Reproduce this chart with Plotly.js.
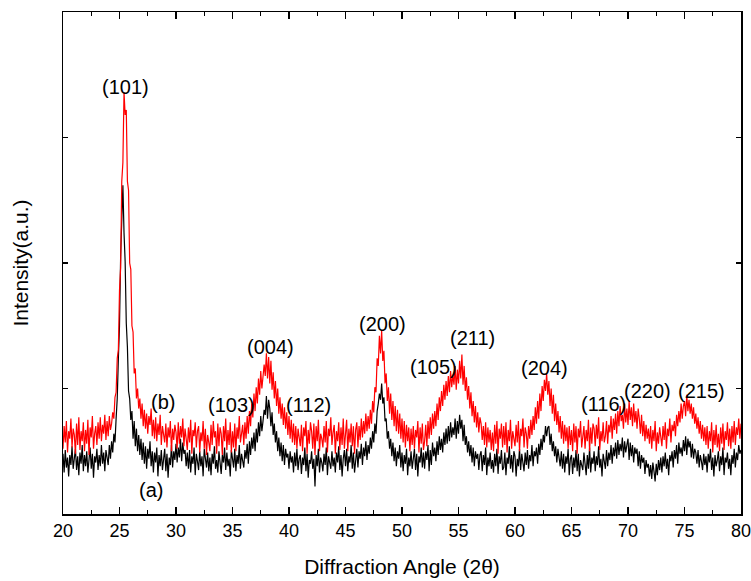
<!DOCTYPE html>
<html>
<head>
<meta charset="utf-8">
<script src="https://cdn.plot.ly/plotly-3.0.1.min.js"></script>
<style>html,body{margin:0;padding:0;background:#fff;}#chart{width:751px;height:581px;}</style>
</head>
<body>
<div id="chart"></div>
<script>
// Diffraction angle grid: start, step (degrees 2θ)
var xStart = 20.0;
var xStep = 0.1;

// Sample (a), black — intensity (a.u.), one row per degree
var seriesA = [
48,33,51,37,45,30,47,39,54,36,
44,52,35,46,31,49,40,55,34,47,
38,50,33,45,53,36,48,29,46,41,
52,35,47,38,55,40,49,34,51,45,
39,55,44,58,49,64,57,76,92,124,
150,205,238,262,224,201,152,133,98,92,
75,82,60,74,54,68,50,63,47,60,
43,57,40,54,36,52,44,58,38,50,
33,49,41,53,30,47,38,51,35,46,
52,34,48,29,45,39,55,37,50,43,
56,41,53,45,60,42,57,48,51,38,
49,36,51,33,46,40,53,31,48,42,
35,50,38,46,30,52,41,37,49,34,
45,31,48,40,54,36,43,33,50,39,
32,47,41,53,35,49,38,44,30,51,
44,37,52,34,47,40,55,36,48,42,
37,51,44,56,40,58,47,61,52,65,
50,68,57,73,62,78,66,74,83,79,
94,76,91,84,70,81,63,72,57,66,
50,61,46,57,42,55,39,52,45,48,
36,50,41,46,33,49,38,52,35,44,
47,32,45,39,53,34,48,29,43,40,
50,36,44,22,47,38,52,33,45,41,
34,48,39,53,31,46,42,36,50,38,
45,33,49,41,54,35,47,30,44,51,
38,52,34,46,41,55,36,49,33,47,
52,37,50,44,56,39,53,46,58,43,
55,48,61,52,66,57,72,64,82,88,
96,91,104,88,93,74,76,60,66,52,
60,46,57,42,53,38,50,44,55,37,
49,34,47,40,52,31,45,38,50,36,
44,52,35,48,30,46,41,53,37,49,
36,50,43,55,34,51,39,57,46,53,
42,58,47,62,51,60,49,65,55,68,
56,70,58,73,61,69,63,76,60,74,
64,79,68,75,58,71,55,62,49,58,
46,55,41,53,38,50,44,48,35,47,
50,34,47,39,53,31,45,38,49,36,
43,33,48,38,52,32,46,40,51,35,
37,49,31,45,40,54,36,47,33,50,
46,30,44,38,52,35,48,41,34,49,
39,51,36,47,42,55,38,50,46,53,
40,56,47,60,51,63,57,70,62,69,
70,55,64,50,58,46,54,41,52,45,
38,50,36,48,33,46,40,52,31,44,
47,32,45,37,51,34,48,30,43,39,
35,49,42,31,47,36,53,33,45,40,
50,34,46,39,54,37,44,30,48,41,
36,51,38,49,43,55,40,53,46,57,
44,59,47,56,50,61,45,58,49,55,
60,43,57,46,55,41,53,48,52,38,
50,36,47,41,45,32,43,37,40,30,
39,28,41,34,26,40,31,43,35,45,
33,46,38,49,36,44,31,47,42,50,
37,51,44,55,40,57,48,53,46,59,
50,62,47,60,53,58,45,56,44,52,
49,40,51,37,47,42,35,48,39,46,
33,48,41,52,35,45,30,47,38,43,
50,34,46,39,53,31,45,41,49,36,
44,31,47,40,52,37,49,43,55,48,
51
];

// Sample (b), red — intensity (a.u.), one row per degree
var seriesB = [
52,70,57,74,49,66,60,76,53,68,
63,48,72,55,77,51,66,58,73,50,
67,56,75,47,69,61,78,52,64,70,
55,73,60,77,58,71,64,79,59,74,
62,78,67,72,81,76,93,97,124,131,
178,196,265,280,336,318,322,265,258,200,
195,150,145,112,116,92,100,84,92,76,
88,70,83,68,80,64,78,71,84,62,
75,60,77,58,72,63,79,55,70,65,
57,72,53,69,61,74,50,68,59,71,
65,52,73,56,70,61,76,54,68,60,
51,69,57,75,48,67,62,73,53,66,
70,49,65,58,74,52,68,47,63,57,
50,71,55,74,61,66,48,72,54,69,
64,47,70,58,76,51,67,55,73,49,
66,53,72,50,69,60,78,57,64,71,
55,73,60,78,64,82,70,88,77,96,
82,101,88,108,95,114,100,109,119,110,
128,108,125,104,122,99,113,92,106,86,
100,80,93,76,88,71,85,68,81,63,
78,60,75,57,72,55,70,52,68,61,
54,71,50,69,62,74,48,67,56,73,
66,52,72,47,70,58,75,50,64,60,
53,70,57,74,49,68,62,77,55,65,
71,48,66,58,73,51,69,55,76,52,
62,75,50,68,57,72,54,70,48,67,
73,53,70,59,76,61,74,64,80,66,
78,68,83,72,90,81,101,97,124,118,
142,128,146,122,130,104,112,90,101,80,
96,75,90,70,86,66,83,64,80,60,
76,57,74,53,71,58,69,50,68,55,
70,52,67,61,74,49,69,56,72,51,
58,71,54,74,60,77,63,80,68,82,
70,88,75,93,82,98,86,103,91,106,
94,110,97,114,101,111,103,118,99,115,
104,122,108,127,103,118,98,109,91,102,
84,97,78,90,73,86,69,81,65,77,
72,59,70,55,73,53,69,57,67,51,
65,50,71,56,74,48,68,60,72,53,
70,55,73,49,67,58,75,52,66,61,
54,71,57,74,50,68,62,76,53,69,
64,52,70,60,75,63,78,67,85,72,
90,76,96,82,102,90,107,98,112,95,
106,86,100,80,95,74,88,71,82,65,
78,60,74,56,71,58,69,52,70,55,
67,50,72,57,70,48,68,61,74,53,
63,70,52,67,58,75,50,69,56,72,
68,54,71,60,77,51,66,58,73,57,
62,74,56,71,65,78,60,76,67,80,
64,82,70,86,74,79,68,88,73,84,
71,90,75,85,70,88,73,82,68,84,
76,64,79,62,74,58,71,60,68,56,
70,52,67,58,74,50,65,56,69,61,
54,70,59,73,52,68,62,76,57,71,
66,74,62,79,70,82,73,88,76,86,
90,78,95,82,91,80,88,76,85,72,
80,68,77,64,74,60,71,58,69,55,
70,52,66,58,73,49,67,55,71,53,
64,50,69,56,72,51,66,59,73,54,
68,52,70,57,74,55,69,63,76,60,
72
];

// Peak labels and their positions (2θ, intensity)
var peakLabels = ["(101)","(b)","(a)","(103)","(004)","(112)","(200)","(105)","(211)","(204)","(116)","(220)","(215)"];
var peakX      = [25.5, 28.85, 27.8, 34.9, 38.4, 41.7, 48.3, 52.8, 56.2, 62.65, 67.8, 71.7, 76.5];
var peakY      = [340, 89, 19, 87, 133, 87, 151, 117, 140, 116, 88, 98, 98];

var xVals = seriesA.map(function(_, i){ return +(xStart + i * xStep).toFixed(2); });

var traces = [
  {x: xVals, y: seriesA, type: 'scatter', mode: 'lines', line: {color: '#000000', width: 1.2}, hoverinfo: 'skip'},
  {x: xVals, y: seriesB, type: 'scatter', mode: 'lines', line: {color: '#ff0000', width: 1.2}, hoverinfo: 'skip'}
];

var annotations = peakLabels.map(function(t, i){
  return {x: peakX[i], y: peakY[i], xref: 'x', yref: 'y', text: t, showarrow: false,
          font: {family: 'Liberation Sans, Arial, sans-serif', size: 20, color: '#000'},
          xanchor: 'center', yanchor: 'middle'};
});

var layout = {
  width: 751, height: 581,
  margin: {l: 63, r: 10, t: 12, b: 67},
  paper_bgcolor: '#ffffff', plot_bgcolor: '#ffffff',
  showlegend: false,
  font: {family: 'Liberation Sans, Arial, sans-serif', color: '#000'},
  xaxis: {
    range: [20, 80], tickmode: 'linear', tick0: 20, dtick: 5,
    ticks: 'inside', ticklen: 7, tickwidth: 1.3, tickcolor: '#000',
    minor: {ticks: 'inside', dtick: 2.5, ticklen: 4, tickwidth: 1.3, tickcolor: '#000'},
    showline: true, linecolor: '#000', linewidth: 1.5, mirror: 'ticks',
    showgrid: false, zeroline: false,
    ticklabeloverflow: 'allow',
    tickfont: {size: 18, color: '#000'},
    title: {text: 'Diffraction Angle (2θ)', font: {size: 21, color: '#000'}, standoff: 19}
  },
  yaxis: {
    range: [0, 400], tickmode: 'linear', tick0: 0, dtick: 100,
    ticks: 'inside', ticklen: 5, tickwidth: 1.3, tickcolor: '#000',
    showticklabels: false,
    showline: true, linecolor: '#000', linewidth: 1.5, mirror: 'ticks',
    showgrid: false, zeroline: false,
    title: {text: 'Intensity(a.u.)', font: {size: 21, color: '#000'}, standoff: 27}
  },
  annotations: annotations
};

Plotly.newPlot('chart', traces, layout, {staticPlot: true, displayModeBar: false});
</script>
</body>
</html>
